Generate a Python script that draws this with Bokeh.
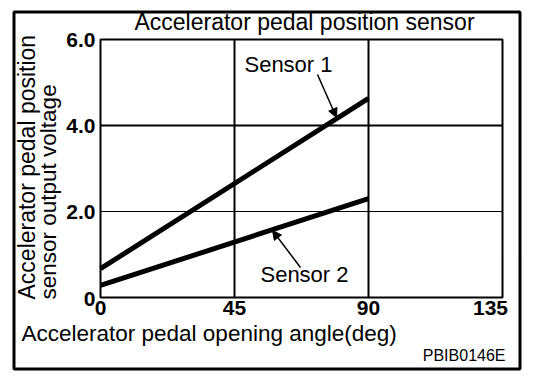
import math
from bokeh.plotting import figure
from bokeh.models import Range1d, FixedTicker, Label, Arrow, NormalHead, ColumnDataSource
from bokeh.embed import file_html
from bokeh.resources import INLINE

# ---- data ----
angle = [0, 90]
sensor1 = [0.67, 4.63]
sensor2 = [0.28, 2.30]
x_ticks = [0, 45, 90, 135]
y_ticks = [0, 2, 4, 6]
y_tick_labels = ["0", "2.0", "4.0", "6.0"]
title_text = "Accelerator pedal position sensor"
x_title = "Accelerator pedal opening angle(deg)"
y_title_1 = "Accelerator pedal position"
y_title_2 = "sensor output voltage"
code_text = "PBIB0146E"

FONT = "Liberation Sans"
W, H = 544, 382
FL, FR, FT, FB = 100, 502, 39, 297  # pixel edges of the chart box

X0, X1 = x_ticks[0], x_ticks[-1]
Y0, Y1 = y_ticks[0], y_ticks[-1]
sx = (FR - FL) / (X1 - X0)
sy = (FB - FT) / (Y1 - Y0)
def dx(px):
    return X0 + (px - FL) / sx
def dy(py):
    return Y0 + (FB - py) / sy

p = figure(width=W, height=H, output_backend="svg", toolbar_location=None,
           x_range=Range1d(dx(0), dx(W)), y_range=Range1d(dy(H), dy(0)),
           min_border=0, background_fill_color="white", border_fill_color="white")
p.outline_line_color = None
p.xgrid.visible = False
p.ygrid.visible = False

# axes drawn at the chart box edges
p.xaxis.fixed_location = Y0
p.yaxis.fixed_location = X0
p.xaxis.ticker = FixedTicker(ticks=x_ticks)
p.yaxis.ticker = FixedTicker(ticks=y_ticks)
for ax in (p.xaxis[0], p.yaxis[0]):
    ax.axis_line_color = None
    ax.major_tick_line_color = None
    ax.minor_tick_line_color = None
    ax.major_tick_out = 0
    ax.major_tick_in = 0
    ax.major_label_text_font = FONT
    ax.major_label_text_font_style = "bold"
    ax.major_label_text_font_size = "21px"
    ax.major_label_text_color = "black"
p.xaxis.major_label_standoff = 3
p.yaxis.major_label_standoff = 5
p.xaxis.major_label_overrides = {X1: ""}
p.yaxis.major_label_overrides = {t: (l if t != Y0 else "") for t, l in zip(y_ticks, y_tick_labels)}

# chart box and grid lines
p.quad(left=[X0], right=[X1], bottom=[Y0], top=[Y1], fill_color=None,
       line_color="black", line_width=2)
p.segment(x0=x_ticks[1:-1], y0=[Y0] * 2, x1=x_ticks[1:-1], y1=[Y1] * 2,
          line_color="black", line_width=2)
p.segment(x0=[X0, X0], y0=y_ticks[1:3], x1=[X1, X1], y1=y_ticks[1:3],
          line_color="black", line_width=[1, 2])

# data lines
src = ColumnDataSource(dict(x=angle, s1=sensor1, s2=sensor2))
p.line("x", "s1", source=src, line_color="black", line_width=5)
p.line("x", "s2", source=src, line_color="black", line_width=5)

def lab(px, py, text, size, align="center", baseline="middle", style="normal", angle_=0.0):
    p.add_layout(Label(x=dx(px), y=dy(py), text=text, text_font=FONT, text_font_size=size,
                       text_align=align, text_baseline=baseline, text_font_style=style,
                       text_color="black", angle=angle_))

lab(490, 300, str(X1), "21px", "center", "top", "bold")
lab(95, 298, y_tick_labels[0], "21px", "right", "alphabetic", "bold")

lab(304, 21, title_text, "23px")
lab(21, 333, x_title, "22.5px", "left")
lab(26, 299, y_title_1, "23px", "left", "middle", angle_=math.pi / 2)
lab(48, 299, y_title_2, "22.5px", "left", "middle", angle_=math.pi / 2)
lab(505, 355, code_text, "16px", "right")

lab(288, 64, "Sensor 1", "22px")
lab(304, 274, "Sensor 2", "22px")
for (x0, y0, x1, y1) in ((317, 74, 336, 117), (300, 267, 272, 230)):
    p.add_layout(Arrow(x_start=dx(x0), y_start=dy(y0), x_end=dx(x1), y_end=dy(y1),
                       line_color="black", line_width=1.5,
                       end=NormalHead(size=9, fill_color="black", line_color="black")))

# outer border
p.quad(left=[dx(13.5)], right=[dx(519.5)], top=[dy(11.5)], bottom=[dy(368.5)],
       fill_color=None, line_color="black", line_width=3)

open("out.html", "w").write(file_html(p, INLINE))
